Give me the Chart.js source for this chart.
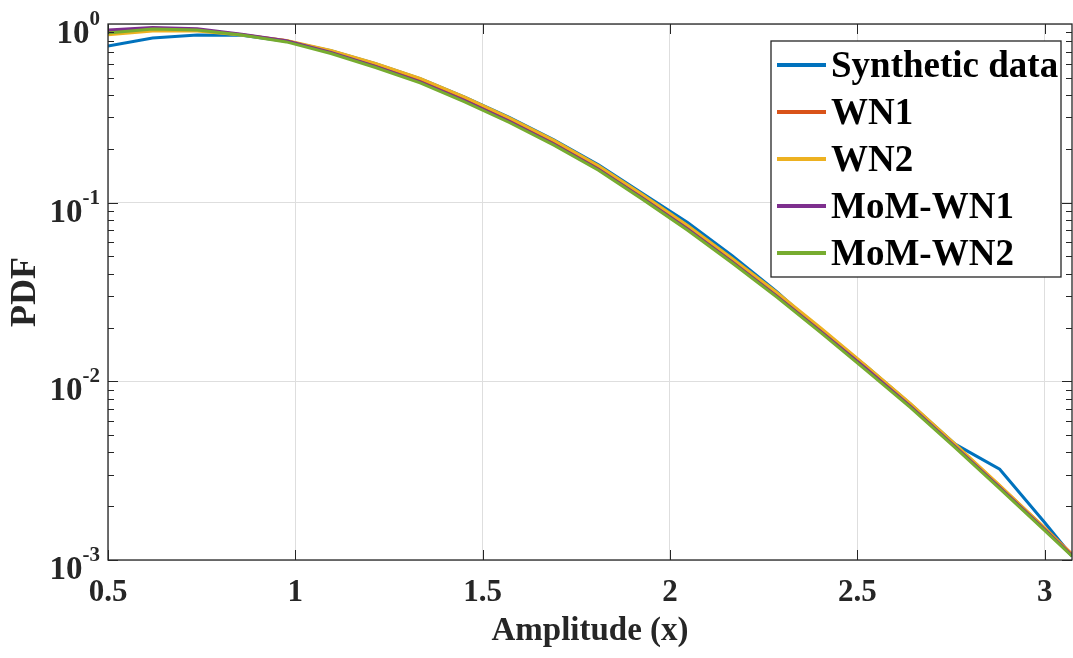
<!DOCTYPE html>
<html>
<head>
<meta charset="utf-8">
<script src="https://cdn.jsdelivr.net/npm/chart.js@4.4.0/dist/chart.umd.min.js"></script>
<style>
  html, body { margin: 0; padding: 0; background: #fff; }
  #wrap { width: 1073px; height: 658px; }
</style>
</head>
<body>
<div id="wrap"><canvas id="pdfChart" width="1073" height="658"></canvas></div>
<script>
// values
const amplitude = [0.5, 0.619, 0.738, 0.857, 0.976, 1.095, 1.214, 1.333, 1.452, 1.571, 1.69, 1.809,
  1.928, 2.047, 2.166, 2.285, 2.404, 2.523, 2.642, 2.761, 2.88, 2.999, 3.073];
const synthetic = [0.753, 0.835, 0.868, 0.865, 0.80, 0.708, 0.600, 0.495, 0.390, 0.300, 0.225, 0.163,
  0.1120, 0.0775, 0.0505, 0.0318, 0.0190, 0.0122, 0.00745, 0.00445, 0.00322, 0.00163, 0.00105];
const wn1 = [0.905, 0.945, 0.93, 0.872, 0.805, 0.70, 0.587, 0.482, 0.379, 0.290, 0.217, 0.157,
  0.1075, 0.0724, 0.0474, 0.0305, 0.0193, 0.0120, 0.00738, 0.00440, 0.00260, 0.00152, 0.00108];
const wn2 = [0.870, 0.915, 0.915, 0.868, 0.808, 0.712, 0.602, 0.496, 0.390, 0.298, 0.223, 0.161,
  0.1105, 0.0745, 0.0488, 0.0314, 0.0198, 0.01225, 0.00750, 0.00445, 0.00262, 0.00152, 0.00107];
const momWn1 = [0.925, 0.955, 0.94, 0.875, 0.805, 0.694, 0.579, 0.474, 0.372, 0.285, 0.213, 0.154,
  0.1056, 0.0712, 0.0466, 0.0300, 0.0189, 0.0118, 0.00723, 0.00431, 0.00255, 0.00149, 0.00106];
const momWn2 = [0.891, 0.938, 0.925, 0.869, 0.794, 0.684, 0.571, 0.468, 0.367, 0.281, 0.210, 0.152,
  0.1040, 0.0701, 0.0460, 0.0296, 0.0186, 0.01156, 0.00713, 0.00425, 0.00251, 0.00147, 0.00105];

const seriesNames = ['Synthetic data', 'WN1', 'WN2', 'MoM-WN1', 'MoM-WN2'];
const seriesColors = ['#0072BD', '#D95319', '#EDB120', '#7E2F8E', '#77AC30'];
const xTicks = [0.5, 1, 1.5, 2, 2.5, 3];
const yTicks = [0.001, 0.01, 0.1, 1];
const yExponents = ['-3', '-2', '-1', '0'];

const axisColor = '#262626';
const serif = "'Liberation Serif', 'Times New Roman', serif";

function toPoints(ys) {
  return ys.map((y, i) => ({ x: amplitude[i], y: y }));
}

// matlab look: box, inner ticks, 10^n labels, ylabel, legend
const matlabAxes = {
  id: 'matlabAxes',
  afterDraw(chart) {
    const ctx = chart.ctx;
    const a = chart.chartArea;
    const xs = chart.scales.x, ys = chart.scales.y;
    ctx.save();
    ctx.strokeStyle = axisColor;
    ctx.lineWidth = 1.3;
    ctx.strokeRect(a.left, a.top, a.right - a.left, a.bottom - a.top);

    ctx.lineWidth = 1;
    ctx.beginPath();
    xTicks.forEach(v => {
      const px = Math.round(xs.getPixelForValue(v)) + 0.5;
      ctx.moveTo(px, a.bottom); ctx.lineTo(px, a.bottom - 10);
      ctx.moveTo(px, a.top); ctx.lineTo(px, a.top + 10);
    });
    for (let e = -3; e < 0; e++) {
      for (let m = 1; m < 10; m++) {
        const v = m * Math.pow(10, e);
        const py = Math.round(ys.getPixelForValue(v)) + 0.5;
        const len = m === 1 ? 10 : 6;
        ctx.moveTo(a.left, py); ctx.lineTo(a.left + len, py);
        ctx.moveTo(a.right, py); ctx.lineTo(a.right - len, py);
      }
    }
    ctx.stroke();

    // y tick labels with superscript
    ctx.fillStyle = axisColor;
    ctx.textBaseline = 'alphabetic';
    yTicks.forEach((v, i) => {
      const py = ys.getPixelForValue(v);
      ctx.font = 'bold 21px ' + serif;
      const ew = ctx.measureText(yExponents[i]).width;
      const expRight = a.left - 8;
      ctx.textAlign = 'right';
      ctx.fillText(yExponents[i], expRight, py + 1);
      ctx.font = 'bold 33px ' + serif;
      ctx.fillText('10', expRight - ew, py + 19);
    });

    // y axis title
    ctx.save();
    ctx.translate(26, (a.top + a.bottom) / 2);
    ctx.rotate(-Math.PI / 2);
    ctx.textAlign = 'center';
    ctx.textBaseline = 'middle';
    ctx.font = 'bold 36px ' + serif;
    ctx.fillText('PDF', 0, 0);
    ctx.restore();

    // legend
    const bx = a.right - 301, by = a.top + 17, bw = 290, bh = 236;
    ctx.fillStyle = '#fff';
    ctx.fillRect(bx, by, bw, bh);
    ctx.strokeStyle = axisColor;
    ctx.lineWidth = 1.3;
    ctx.strokeRect(bx, by, bw, bh);
    ctx.font = 'bold 37px ' + serif;
    ctx.textAlign = 'left';
    ctx.textBaseline = 'middle';
    seriesNames.forEach((name, i) => {
      const cy = by + 24 + i * 47;
      ctx.strokeStyle = seriesColors[i];
      ctx.lineWidth = 4;
      ctx.beginPath();
      ctx.moveTo(bx + 6, cy); ctx.lineTo(bx + 55, cy);
      ctx.stroke();
      ctx.fillStyle = '#000';
      ctx.fillText(name, bx + 60, cy + 2);
    });
    ctx.restore();
  }
};

const allSeries = [synthetic, wn1, wn2, momWn1, momWn2];

new Chart(document.getElementById('pdfChart'), {
  type: 'line',
  data: {
    datasets: allSeries.map((ys, i) => ({
      label: seriesNames[i],
      data: toPoints(ys),
      borderColor: seriesColors[i],
      backgroundColor: seriesColors[i],
      borderWidth: 3,
      pointRadius: 0,
      tension: 0,
      fill: false,
      order: allSeries.length - i
    }))
  },
  options: {
    responsive: false,
    devicePixelRatio: 1,
    animation: false,
    layout: { padding: { top: 24, right: 1, left: 0, bottom: 0 } },
    plugins: { legend: { display: false }, tooltip: { enabled: false } },
    scales: {
      x: {
        type: 'linear',
        min: 0.5,
        max: 3.073,
        afterBuildTicks: s => { s.ticks = xTicks.map(v => ({ value: v })); },
        afterFit: s => { s.height = 98; },
        grid: { color: '#dedede', lineWidth: 1, drawTicks: false },
        border: { display: false },
        ticks: {
          color: axisColor,
          padding: 14,
          maxRotation: 0,
          font: { family: serif, size: 31, weight: 'bold' },
          callback: v => String(v)
        },
        title: {
          display: true,
          text: 'Amplitude (x)',
          color: axisColor,
          padding: { top: 0, bottom: 7 },
          font: { family: serif, size: 33, weight: 'bold' }
        }
      },
      y: {
        type: 'logarithmic',
        min: 0.001,
        max: 1,
        afterBuildTicks: s => { s.ticks = yTicks.map(v => ({ value: v })); },
        afterFit: s => { s.width = 108; },
        grid: { color: '#dedede', lineWidth: 1, drawTicks: false },
        border: { display: false },
        ticks: { display: false }
      }
    }
  },
  plugins: [matlabAxes]
});
</script>
</body>
</html>
